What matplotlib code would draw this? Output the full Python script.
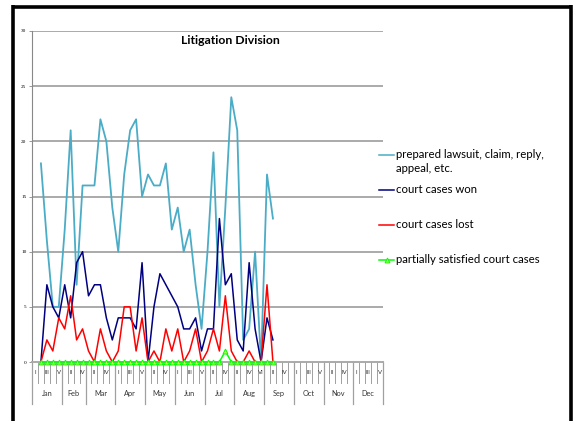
import numpy as np
import matplotlib
matplotlib.use('Agg')
import matplotlib.pyplot as plt
from matplotlib.lines import Line2D

# months and their week labels (category axis, two levels)
months = ['Jan', 'Feb', 'Mar', 'Apr', 'May', 'Jun', 'Jul', 'Aug', 'Sep', 'Oct', 'Nov', 'Dec']
month_weeks = [
    ['I', 'II', 'III', 'IV', 'V'],
    ['I', 'II', 'III', 'IV'],
    ['I', 'II', 'III', 'IV', 'V'],
    ['I', 'II', 'III', 'IV', 'V'],
    ['I', 'II', 'III', 'IV', 'V'],
    ['I', 'II', 'III', 'IV', 'V'],
    ['I', 'II', 'III', 'IV', 'V'],
    ['II', 'III', 'IV', 'V', 'VI'],
    ['I', 'II', 'III', 'IV', 'V'],
    ['I', 'II', 'III', 'IV', 'V'],
    ['I', 'II', 'III', 'IV', 'V'],
    ['I', 'II', 'III', 'IV', 'V'],
]

# weekly values, Jan II .. Sep II
prepared = [18, 11, 5, 5, 12, 21, 7, 16, 16, 16, 22, 20, 14, 10, 17, 21, 22, 15, 17, 16,
            16, 18, 12, 14, 10, 12, 7, 3, 10, 19, 5, 14, 24, 21, 2, 3, 10, 0, 17, 13]
won = [0, 7, 5, 4, 7, 4, 9, 10, 6, 7, 7, 4, 2, 4, 4, 4, 3, 9, 0, 5,
       8, 7, 6, 5, 3, 3, 4, 1, 3, 3, 13, 7, 8, 2, 1, 9, 3, 0, 4, 2]
lost = [0, 2, 1, 4, 3, 6, 2, 3, 1, 0, 3, 1, 0, 1, 5, 5, 1, 4, 0, 1,
        0, 3, 1, 3, 0, 1, 3, 0, 1, 3, 1, 6, 1, 0, 0, 1, 0, 0, 7, 0]
partial = [0, 0, 0, 0, 0, 0, 0, 0, 0, 0, 0, 0, 0, 0, 0, 0, 0, 0, 0, 0,
           0, 0, 0, 0, 0, 0, 0, 0, 0, 0, 0, 1, 0, 0, 0, 0, 0, 0, 0, 0]
first_week = 1  # data begins in the 2nd category (Jan II)

labels = ['prepared lawsuit, claim, reply,\nappeal, etc.', 'court cases won',
          'court cases lost', 'partially satisfied court cases']
colors = ['#4bacc6', '#000080', '#ff0000', '#00ff00']

W, H = 576, 421
fig = plt.figure(figsize=(W / 100, H / 100), dpi=100)

def px(x, y):
    return x / W, 1 - y / H

x0, x1, y0, y1 = 32, 383, 31, 362
ax = fig.add_axes([x0 / W, (H - y1) / H, (x1 - x0) / W, (y1 - y0) / H])

n_cat = sum(len(w) for w in month_weeks)
xs = np.arange(first_week, first_week + len(prepared))

grid_c = '#aaaaaa'
for v in range(5, 31, 5):
    ax.axhline(v, color=grid_c, lw=1.4, zorder=0)

ax.plot(xs, prepared, color=colors[0], lw=1.3)
ax.plot(xs, won, color=colors[1], lw=1.1)
ax.plot(xs, lost, color=colors[2], lw=1.1)
ax.plot(xs, partial, color=colors[3], lw=1.1, marker='^', ms=3.5,
        mfc='#c8ff50', mec='#00ff00', mew=0.7, clip_on=False, zorder=5)

ax.set_xlim(-0.5, n_cat - 0.5)
ax.set_ylim(0, 30)
ax.set_yticks(range(0, 31, 5))
ax.tick_params(axis='y', labelsize=3.8, length=2, width=0.6, color='#888888', pad=2)
for t in ax.get_yticklabels():
    t.set_family('Liberation Serif')
ax.set_xticks([])
for s in ['top', 'right']:
    ax.spines[s].set_visible(False)
ax.spines['left'].set_color('#888888')
ax.spines['left'].set_linewidth(0.8)
ax.spines['bottom'].set_color(grid_c)
ax.spines['bottom'].set_linewidth(1.4)

# two-level category axis
tr = ax.get_xaxis_transform()
row1 = -21 / (y1 - y0)
row2 = -42 / (y1 - y0)
pos = 0
for k, (m, wk) in enumerate(zip(months, month_weeks)):
    ax.plot([pos - 0.5, pos - 0.5], [0, row2], transform=tr, color='#a0a0a0', lw=0.9, clip_on=False)
    for j, w in enumerate(wk):
        idx = pos + j
        if j > 0:
            ax.plot([idx - 0.5, idx - 0.5], [0, row1], transform=tr, color='#a0a0a0', lw=0.7, clip_on=False)
        if idx % 2 == 0:
            ax.text(idx, row1 / 2, w, transform=tr, ha='center', va='center',
                    fontsize=4.3, family='Lato', color='#333333')
    ax.text(pos + len(wk) / 2 - 0.5, (row1 + row2) / 2, m, transform=tr, ha='center',
            va='center', fontsize=5.3, family='Lato', color='#333333')
    pos += len(wk)
ax.plot([pos - 0.5, pos - 0.5], [0, row2], transform=tr, color='#a0a0a0', lw=0.9, clip_on=False)

fig.text(*px(230, 41), 'Litigation Division', ha='center', va='center',
         fontsize=8.8, fontweight='bold', family='Lato')

# legend
leg_y = [155, 190, 225, 260]
for lab, c, ly in zip(labels, colors, leg_y):
    fig.add_artist(Line2D([379 / W, 394 / W], [1 - ly / H, 1 - ly / H], color=c, lw=1.1))
    if c == '#00ff00':
        fig.add_artist(Line2D([386.5 / W], [1 - ly / H], marker='^', ms=3.5, mfc='#c8ff50',
                              mec='#00ff00', mew=0.7, lw=0))
    fig.text(396 / W, 1 - (ly - 6) / H, lab, ha='left', va='top', fontsize=8.2,
             family='Lato', linespacing=1.3)

# outer frame
fr = dict(color='black', lw=2.6, solid_capstyle='butt')
fig.add_artist(Line2D([11.5 / W, 572 / W], [1 - 6.5 / H, 1 - 6.5 / H], **fr))
fig.add_artist(Line2D([13 / W, 13 / W], [1 - 5 / H, 0], **fr))
fig.add_artist(Line2D([570.5 / W, 570.5 / W], [1 - 5 / H, 0], **fr))

fig.savefig('out.png', dpi=100)
